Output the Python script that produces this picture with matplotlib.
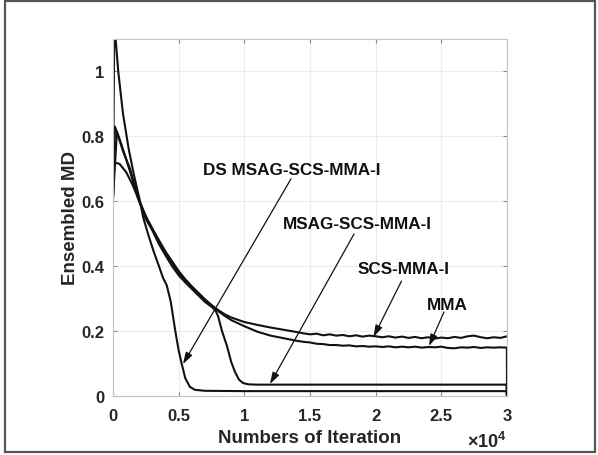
import matplotlib
matplotlib.use("Agg")
import matplotlib.pyplot as plt
from matplotlib.patches import Rectangle

plt.rcParams['font.family'] = ['Liberation Sans', 'DejaVu Sans']
plt.rcParams['font.weight'] = 'bold'
plt.rcParams['mathtext.fontset'] = 'custom'
plt.rcParams['mathtext.rm'] = 'Liberation Sans:bold'
plt.rcParams['mathtext.bf'] = 'Liberation Sans:bold'

# ---------------- data ----------------
ds_x = [0, 100, 400, 760, 1200, 1600, 2000, 2300, 2700, 3100, 3500, 3800, 4100,
        4400, 4720, 5000, 5230, 5500, 5860, 6240, 7000, 10000, 15000, 20000,
        25000, 29950, 30000]
ds_y = [0.61, 1.15, 1.0, 0.87, 0.76, 0.68, 0.61, 0.55, 0.495, 0.445, 0.40, 0.365,
        0.34, 0.29, 0.206, 0.14, 0.10, 0.055, 0.028, 0.019, 0.016, 0.015, 0.015,
        0.015, 0.015, 0.015, 0.0]

msag_x = [0, 150, 400, 800, 1300, 1900, 2500, 3000, 3500, 4000, 4500, 5000, 5500,
          6000, 6500, 7000, 7500, 7800, 8000, 8300, 8680, 9000, 9290, 9600, 9900,
          10300, 11000, 15000, 20000, 25000, 29950, 30000]
msag_y = [0.61, 0.83, 0.80, 0.75, 0.70, 0.61, 0.545, 0.51, 0.468, 0.433, 0.40,
          0.372, 0.35, 0.33, 0.31, 0.29, 0.275, 0.264, 0.246, 0.20, 0.154, 0.105,
          0.074, 0.05, 0.04, 0.036, 0.035, 0.035, 0.035, 0.035, 0.035, 0.0]

scs_x = [0, 300, 600, 1000, 1500, 2000, 2500, 3000, 3500, 4000, 4500, 5000, 5500,
         6000, 6500, 7000, 7500, 8000, 8500, 9000, 10000, 11000, 12000, 13000,
         14000, 14500, 15000, 15500, 16000, 16500, 17000, 17500, 18000, 18500,
         19000, 19500, 20000, 20500, 21000, 21500, 22000, 22500, 23000, 23500,
         24000, 24500, 25000, 25500, 26000, 26500, 27000, 27500, 28000, 28500,
         29000, 29500, 30000]
scs_y = [0.61, 0.815, 0.78, 0.73, 0.665, 0.605, 0.55, 0.515, 0.475, 0.44, 0.41,
         0.38, 0.355, 0.335, 0.315, 0.296, 0.28, 0.265, 0.252, 0.242, 0.228,
         0.219, 0.211, 0.204, 0.197, 0.193, 0.190, 0.192, 0.187, 0.190, 0.186,
         0.188, 0.184, 0.187, 0.183, 0.186, 0.184, 0.181, 0.184, 0.180, 0.183,
         0.179, 0.182, 0.178, 0.181, 0.177, 0.180, 0.178, 0.182, 0.179, 0.184,
         0.186, 0.181, 0.178, 0.181, 0.179, 0.184]

mma_x = [0, 100, 500, 1000, 1500, 2000, 2500, 3000, 3500, 4000, 4500, 5000, 5500,
         6000, 6500, 7000, 7500, 8000, 8500, 9000, 10000, 11000, 12000, 13000,
         14000, 14500, 15000, 15500, 16000, 16500, 17000, 17500, 18000, 18500,
         19000, 19500, 20000, 20500, 21000, 21500, 22000, 22500, 23000, 23500,
         24000, 24500, 25000, 25500, 26000, 26500, 27000, 27500, 28000, 28500,
         29000, 29500, 29990, 30000]
mma_y = [0.61, 0.72, 0.715, 0.69, 0.65, 0.60, 0.555, 0.515, 0.48, 0.445, 0.415,
         0.385, 0.36, 0.338, 0.318, 0.298, 0.28, 0.262, 0.247, 0.234, 0.215,
         0.198, 0.186, 0.178, 0.170, 0.167, 0.165, 0.161, 0.160, 0.157, 0.157,
         0.155, 0.156, 0.153, 0.154, 0.152, 0.153, 0.151, 0.153, 0.150, 0.152,
         0.150, 0.152, 0.149, 0.151, 0.150, 0.152, 0.148, 0.147, 0.150, 0.149,
         0.151, 0.148, 0.150, 0.149, 0.150, 0.149, 0.0]

labels = ["DS MSAG-SCS-MMA-I", "MSAG-SCS-MMA-I", "SCS-MMA-I", "MMA"]
label_xy = [(13630, 0.699), (18579, 0.533), (22119, 0.394), (25431, 0.283)]
arrow_tail = [(13553, 0.669), (18350, 0.499), (21967, 0.354), (25203, 0.259)]
arrow_head = [(5330, 0.0986), (11954, 0.037), (19835, 0.182), (24061, 0.154)]

xticks = [0, 5000, 10000, 15000, 20000, 25000, 30000]
xticklabels = ["0", "0.5", "1", "1.5", "2", "2.5", "3"]
yticks = [0, 0.2, 0.4, 0.6, 0.8, 1.0]
yticklabels = ["0", "0.2", "0.4", "0.6", "0.8", "1"]

# ---------------- figure ----------------
W, H = 598, 456
fig = plt.figure(figsize=(W / 100, H / 100), dpi=100)
fig.patch.set_facecolor('white')
fig.patches.append(Rectangle((5 / W, 3 / H), 590 / W, 451 / H, transform=fig.transFigure,
                             fill=False, edgecolor='#555555', linewidth=1.6))

ax = fig.add_axes([113 / W, 59 / H, 394 / W, 357 / H])
ax.set_xlim(0, 30000)
ax.set_ylim(0, 1.1)

line_kw = dict(color='#111111', linewidth=1.5, solid_joinstyle='round')
ax.plot(mma_x, mma_y, **line_kw)
ax.plot(scs_x, scs_y, **line_kw)
ax.plot(msag_x, msag_y, **line_kw)
ax.plot(ds_x, ds_y, **line_kw)

ax.set_xticks(xticks)
ax.set_xticklabels(xticklabels)
ax.set_yticks(yticks)
ax.set_yticklabels(yticklabels)
ax.grid(True, color='#ececec', linewidth=0.8)
ax.set_axisbelow(True)
ax.tick_params(direction='in', length=3, width=0.8, color='#888888',
               labelsize=12, labelcolor='#262626', top=True, right=True)
ax.tick_params(axis='x', pad=9)
ax.tick_params(axis='y', pad=6)
for s in ax.spines.values():
    s.set_color('#c4c4c4')
    s.set_linewidth(0.8)

ax.set_xlabel("Numbers of Iteration", fontsize=13.5, fontweight='bold', color='#262626',
              labelpad=4)
ax.set_ylabel("Ensembled MD", fontsize=13.5, fontweight='bold', color='#262626',
              labelpad=2)
ax.text(1.0, -0.125, r'$\times\mathregular{10^{4}}$', transform=ax.transAxes,
        ha='right', va='center', fontsize=13, color='#262626')

for lab, (tx, ty), tail, head in zip(labels, label_xy, arrow_tail, arrow_head):
    ax.text(tx, ty, lab, ha='center', va='center', fontsize=12.3,
            fontweight='bold', color='#111111')
    ax.annotate('', xy=head, xytext=tail,
                arrowprops=dict(arrowstyle='-|>,head_length=0.7,head_width=0.22',
                                color='#111111', linewidth=0.9,
                                shrinkA=0, shrinkB=0))

fig.savefig("out.png", dpi=100)
